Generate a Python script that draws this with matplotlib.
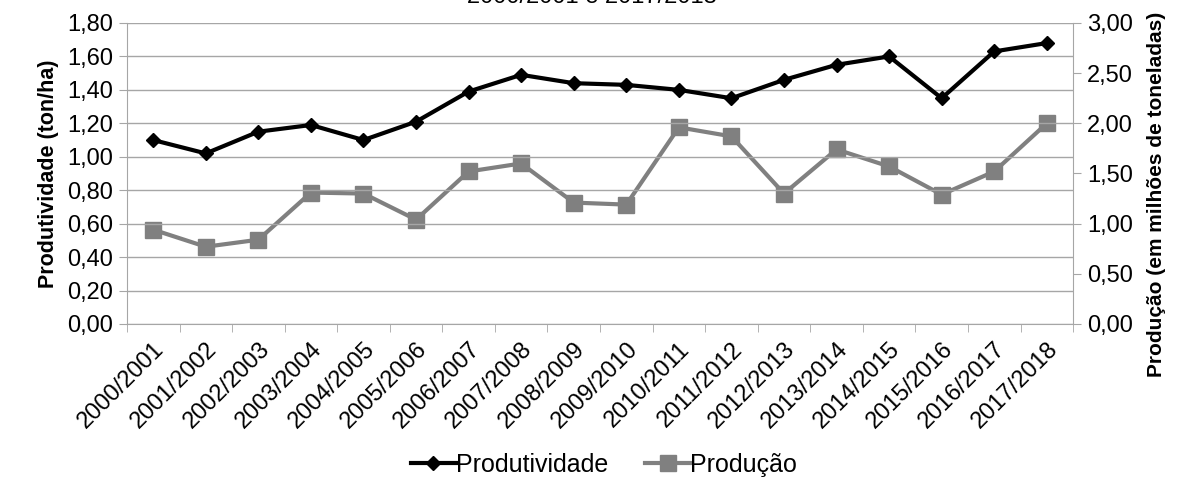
import numpy as np
import matplotlib
matplotlib.use('Agg')
import matplotlib.pyplot as plt
from matplotlib.ticker import FuncFormatter, MultipleLocator, FixedLocator

plt.rcParams['font.family'] = ['Liberation Sans', 'DejaVu Sans']

# data
safras = ['2000/2001', '2001/2002', '2002/2003', '2003/2004', '2004/2005',
          '2005/2006', '2006/2007', '2007/2008', '2008/2009', '2009/2010',
          '2010/2011', '2011/2012', '2012/2013', '2013/2014', '2014/2015',
          '2015/2016', '2016/2017', '2017/2018']
produtividade = [1.10, 1.02, 1.15, 1.19, 1.10, 1.21, 1.39, 1.49, 1.44, 1.43,
                 1.40, 1.35, 1.46, 1.55, 1.60, 1.35, 1.63, 1.68]
producao = [0.94, 0.77, 0.84, 1.31, 1.30, 1.04, 1.52, 1.60, 1.21, 1.19,
            1.96, 1.87, 1.30, 1.74, 1.57, 1.29, 1.52, 2.00]

grid_col = '#a6a6a6'
comma = FuncFormatter(lambda v, p: f'{v:.2f}'.replace('.', ','))

fig = plt.figure(figsize=(11.91, 4.79), dpi=100)
ax = fig.add_axes([0.1066, 0.3236, 0.7944, 0.6284])
ax2 = ax.twinx()

x = np.arange(len(safras))

# produção on the right axis, drawn first so produtividade sits on top
ax2.plot(x, producao, color='#808080', lw=3, marker='s', ms=11,
         label='Produção', zorder=3)
ax.plot(x, produtividade, color='black', lw=3, marker='D', ms=7.5,
        label='Produtividade', zorder=4)
ax.set_zorder(ax2.get_zorder() + 1)
ax.patch.set_visible(False)

ax.set_xlim(-0.5, len(safras) - 0.5)
ax.set_ylim(0, 1.8)
ax2.set_ylim(0, 3.0)
ax.yaxis.set_major_locator(MultipleLocator(0.2))
ax2.yaxis.set_major_locator(MultipleLocator(0.5))
ax.yaxis.set_major_formatter(comma)
ax2.yaxis.set_major_formatter(comma)

ax.set_xticks(x)
ax.set_xticklabels(safras, rotation=45, ha='right', rotation_mode='anchor')
ax.xaxis.set_minor_locator(FixedLocator(np.arange(-0.5, len(safras), 1.0)))
ax.tick_params(axis='x', which='major', length=0, pad=10, labelsize=17)
ax.tick_params(axis='x', which='minor', length=6, color=grid_col)
ax.tick_params(axis='y', length=6, color=grid_col, labelsize=17, pad=4)
ax2.tick_params(axis='y', length=6, color=grid_col, labelsize=17, pad=4)

ax.grid(axis='y', color=grid_col, lw=1)
for a in (ax, ax2):
    a.spines['top'].set_visible(False)
    for s in ('left', 'right', 'bottom'):
        a.spines[s].set_color(grid_col)
ax.spines['right'].set_visible(False)
ax2.spines['left'].set_visible(False)
ax2.spines['bottom'].set_visible(False)

ax.set_ylabel('Produtividade (ton/ha)', fontsize=15.5, fontweight='bold', labelpad=6)
ax2.set_ylabel('Produção (em milhões de toneladas)', fontsize=15,
               fontweight='bold', labelpad=10)
ax2.yaxis.label.set_y(0.43)

# title is cut off at the top in the original image
fig.text(0.497, 1.006, '2000/2001 e 2017/2018', ha='center', va='center',
         fontsize=17)

h1, l1 = ax.get_legend_handles_labels()
h2, l2 = ax2.get_legend_handles_labels()
fig.legend(h1 + h2, l1 + l2, loc='center', bbox_to_anchor=(0.507, 0.03),
           ncol=2, frameon=False, fontsize=18, handlelength=1.8,
           handletextpad=0.0, columnspacing=1.5)

fig.savefig('out.png', dpi=100)
